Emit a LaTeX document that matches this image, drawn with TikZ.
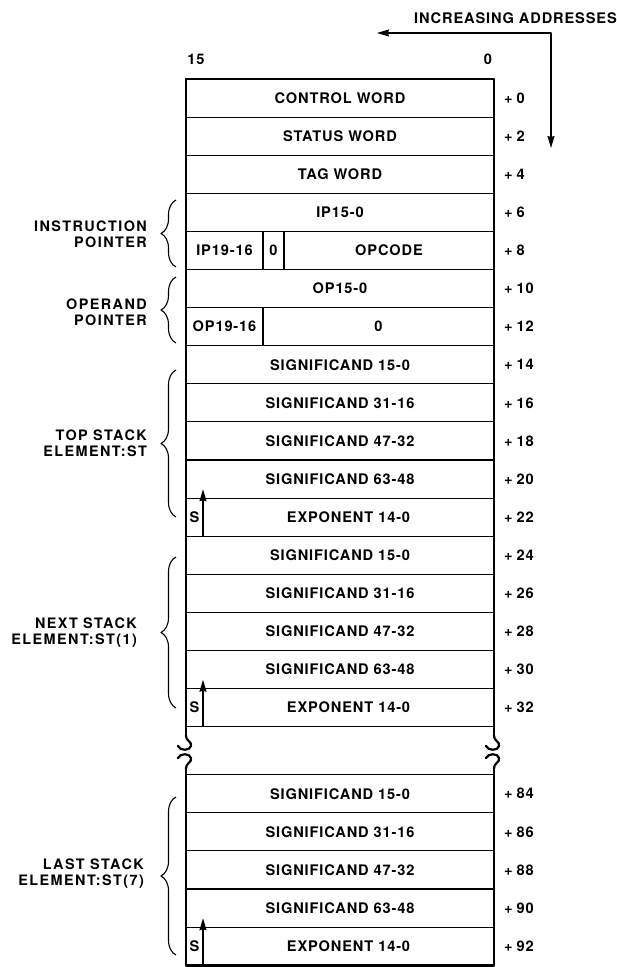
\documentclass[tikz,border=0pt]{standalone}
\usepackage{fontspec}
\setmainfont{TeX Gyre Heros}[LetterSpace=6]
\newfontfamily\lblfont{TeX Gyre Heros}[LetterSpace=10]
\usetikzlibrary{positioning,decorations.pathreplacing,arrows.meta}
\def\h{38.1}
\begin{document}
\begin{tikzpicture}[>={Stealth[length=12pt,width=7pt,inset=1pt]},x=1pt,y=-1pt,line join=round,
	font=\fontsize{14.6}{16}\selectfont\bfseries,
	cell/.style={draw,line width=1.1pt,minimum height=\h,inner sep=0pt,outer sep=0pt},
	frame/.style={line width=2.8pt},
	curl/.style={line width=2.2pt,line cap=round},
	off/.style={anchor=west,inner sep=0pt},
	lbl/.style={anchor=east,align=right,inner sep=0pt,font=\fontsize{14.4}{16}\selectfont\lblfont\bfseries},
	brc/.style={line width=1.1pt,decorate,decoration={brace,amplitude=15pt}}]
	\useasboundingbox (0,0) rectangle (617,967);
	\node[inner sep=0pt,anchor=east] (dir) at (617,18) {INCREASING ADDRESSES};
	\coordinate (turn) at (551,33);
	\coordinate (aL) at (377,33);
	\coordinate (aD) at (551,148);
	\draw[<->,line width=1.3pt] (aL) -- (turn) -- (aD);
	\node (b15) at (196,59) {15};
	\node (b0) at (488,59) {0};
	\node[cell,minimum width=308,anchor=north west] (r0) at (186,79) {CONTROL WORD};
	\node[cell,minimum width=308,below=0pt of r0] (r2) {STATUS WORD};
	\node[cell,minimum width=308,below=0pt of r2] (r4) {TAG WORD};
	\node[cell,minimum width=308,below=0pt of r4] (r6) {IP15-0};
	\node[cell,minimum width=77,anchor=north west] (ip19) at (r6.south west) {IP19-16};
	\node[cell,minimum width=21,right=0pt of ip19] (ipz) {0};
	\node[cell,minimum width=210,right=0pt of ipz] (opc) {OPCODE};
	\node[cell,minimum width=308,anchor=north west] (r10) at (ip19.south west) {OP15-0};
	\node[cell,minimum width=77,anchor=north west] (op19) at (r10.south west) {OP19-16};
	\node[cell,minimum width=231,right=0pt of op19] (opz) {0};
	\foreach \r/\n in {r0/0,r2/2,r4/4,r6/6,opc/8,r10/10,opz/12}
		\node[off] (o\n) at ([xshift=10pt]\r.east) {+\hspace{4pt}\n};
	\foreach \g/\y/\o in {a/345.7/14,b/536.2/24,c/774.7/84} {
		\foreach \s [count=\k from 0] in {15-0,31-16,47-32,63-48} {
			\pgfmathtruncatemacro\n{\o+2*\k}
			\node[cell,minimum width=308,anchor=north west] (\g\k) at (186,\y+\k*\h) {SIGNIFICAND \s};
			\node[off] (o\n) at ([xshift=10pt]\g\k.east) {+\hspace{4pt}\n};
		}
		\pgfmathtruncatemacro\n{\o+8}
		\node[cell,minimum width=17,anchor=north west] (\g-s) at (186,\y+4*\h) {S};
		\node[cell,minimum width=291,right=0pt of \g-s] (\g-e) {EXPONENT 14-0};
		\node[off] (o\n) at ([xshift=10pt]\g-e.east) {+\hspace{4pt}\n};
		\draw[->,line width=1.3pt] (\g-s.south east) -- ++(0,-47);
	}
	\draw[frame] (186,736) -- (186,79) -- (494,79) -- (494,736);
	\draw[frame] (186,768) -- (186,965.2) -- (494,965.2) -- (494,768);
	\foreach \x in {186,494} {
		\draw[curl] (\x,735) .. controls (\x,742) and (\x+6,741) .. (\x+5,746) .. controls (\x+4,751) and (\x-6,751) .. (\x-8,746);
		\draw[curl] (\x,769) .. controls (\x,762) and (\x+6,763) .. (\x+5,758) .. controls (\x+4,753) and (\x-6,753) .. (\x-8,758);
	}
	\draw[brc] (176,267) -- (176,200);
	\draw[brc] (176,343) -- (176,277);
	\draw[brc] (176,517) -- (176,370);
	\draw[brc] (176,708) -- (176,557);
	\draw[brc] (176,955) -- (176,797);
	\node[lbl] (lip) at (147,234) {INSTRUCTION\\POINTER};
	\node[lbl] (lop) at (147,312) {OPERAND\\POINTER};
	\node[lbl] (ltop) at (147,443) {TOP STACK\\ELEMENT:ST};
	\node[lbl] (lnext) at (137,633) {NEXT STACK\\ELEMENT:ST(1)};
	\node[lbl] (llast) at (144,874) {LAST STACK\\ELEMENT:ST(7)};
\end{tikzpicture}
\end{document}
